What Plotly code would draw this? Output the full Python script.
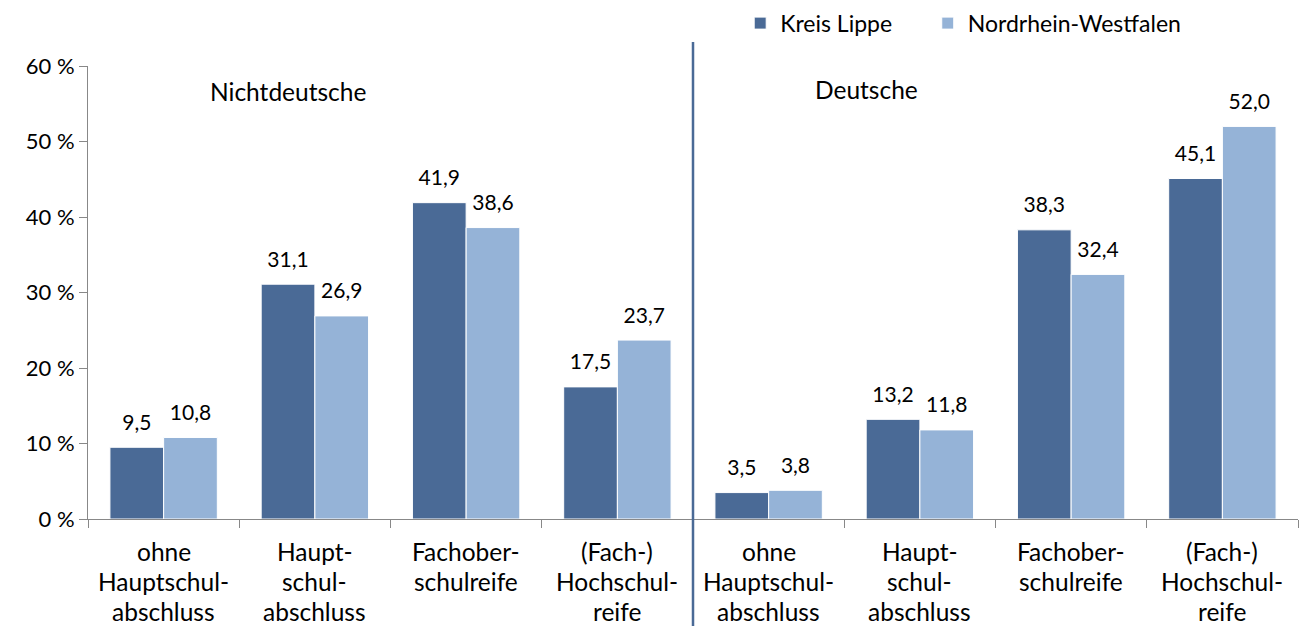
import plotly.graph_objects as go

groups = ["Nichtdeutsche", "Deutsche"]
categories = [
    "ohne<br>Hauptschul-<br>abschluss",
    "Haupt-<br>schul-<br>abschluss",
    "Fachober-<br>schulreife",
    "(Fach-)<br>Hochschul-<br>reife",
    "ohne<br>Hauptschul-<br>abschluss",
    "Haupt-<br>schul-<br>abschluss",
    "Fachober-<br>schulreife",
    "(Fach-)<br>Hochschul-<br>reife",
]
kreis_lippe = [9.5, 31.1, 41.9, 17.5, 3.5, 13.2, 38.3, 45.1]
nrw = [10.8, 26.9, 38.6, 23.7, 3.8, 11.8, 32.4, 52.0]
y_ticks = [0, 10, 20, 30, 40, 50, 60]
y_tick_labels = ["0 %", "10 %", "20 %", "30 %", "40 %", "50 %", "60 %"]

FONT = "Lato"
FS = 22
FS_CAT = 24.5
FS_VAL = 21
DARK = "#4A6A96"
LIGHT = "#95B3D7"
x = list(range(len(categories)))

fig = go.Figure()
series = [("Kreis Lippe", kreis_lippe, DARK, "legend"),
          ("Nordrhein-Westfalen", nrw, LIGHT, "legend2")]
for name, vals, col, lg in series:
    fig.add_trace(go.Bar(
        x=x, y=vals, name=name, legend=lg, offsetgroup=name,
        marker=dict(color=col, line=dict(color="white", width=1)),
        hoverinfo="x+y",
    ))
for name, vals, col, lg in series:
    fig.add_trace(go.Scatter(
        x=x, y=vals, name=name, offsetgroup=name, mode="markers+text",
        marker=dict(size=18, opacity=0, color=col),
        texttemplate="%{y:.1f}", textposition="top center",
        textfont=dict(family=FONT, size=FS_VAL, color="black"),
        showlegend=False, hoverinfo="skip", cliponaxis=False,
    ))

annotations = []
for i, lab in enumerate(categories):
    for j, line in enumerate(lab.split("<br>")):
        annotations.append(dict(
            x=i, y=0, xref="x", yref="paper", text=line, showarrow=False,
            yanchor="middle", yshift=-32 - 30 * j, borderpad=0,
            font=dict(family=FONT, size=FS_CAT, color="black"),
        ))
annotations.append(dict(x=0.82, y=56.6, xref="x", yref="y", text=groups[0], showarrow=False,
                        font=dict(family=FONT, size=FS_CAT, color="black")))
annotations.append(dict(x=4.65, y=56.9, xref="x", yref="y", text=groups[1], showarrow=False,
                        font=dict(family=FONT, size=FS_CAT, color="black")))

legend_common = dict(orientation="h", yanchor="top", y=1.142, xanchor="left",
                     font=dict(family=FONT, size=23, color="black"), itemwidth=30,
                     bgcolor="rgba(0,0,0,0)")

fig.update_layout(
    width=1301, height=626,
    margin=dict(l=88, r=3, t=66, b=107, autoexpand=False),
    paper_bgcolor="white", plot_bgcolor="white",
    barmode="group", bargap=0.29, bargroupgap=0.0,
    scattermode="group", scattergap=0.29,
    separators=",.",
    font=dict(family=FONT, size=FS, color="black"),
    showlegend=True,
    legend=dict(x=0.539, **legend_common),
    legend2=dict(x=0.694, **legend_common),
    annotations=annotations,
    xaxis=dict(range=[-0.5, 7.5], tickmode="array",
               tickvals=[-0.5, 0.5, 1.5, 2.5, 3.5, 4.5, 5.5, 6.5, 7.5],
               ticktext=[""] * 9, ticks="outside", ticklen=8, tickcolor="#888888",
               showline=True, linecolor="#888888", linewidth=1, showgrid=False, zeroline=False,
               automargin=False),
    yaxis=dict(range=[0, 60], tickmode="array", tickvals=y_ticks, ticktext=y_tick_labels,
               ticks="outside", ticklen=8,
               tickcolor="#888888", showline=True, linecolor="#888888", linewidth=1,
               showgrid=False, zeroline=False, tickfont=dict(family=FONT, size=FS),
               automargin=False),
    shapes=[dict(type="line", xref="x", yref="paper", x0=3.5, x1=3.5, y0=-0.236, y1=1.053,
                 line=dict(color=DARK, width=2.5))],
)

fig.write_html("out.html", config={"displayModeBar": False},
               post_script="document.body.style.margin='0';document.body.style.overflow='hidden';")
